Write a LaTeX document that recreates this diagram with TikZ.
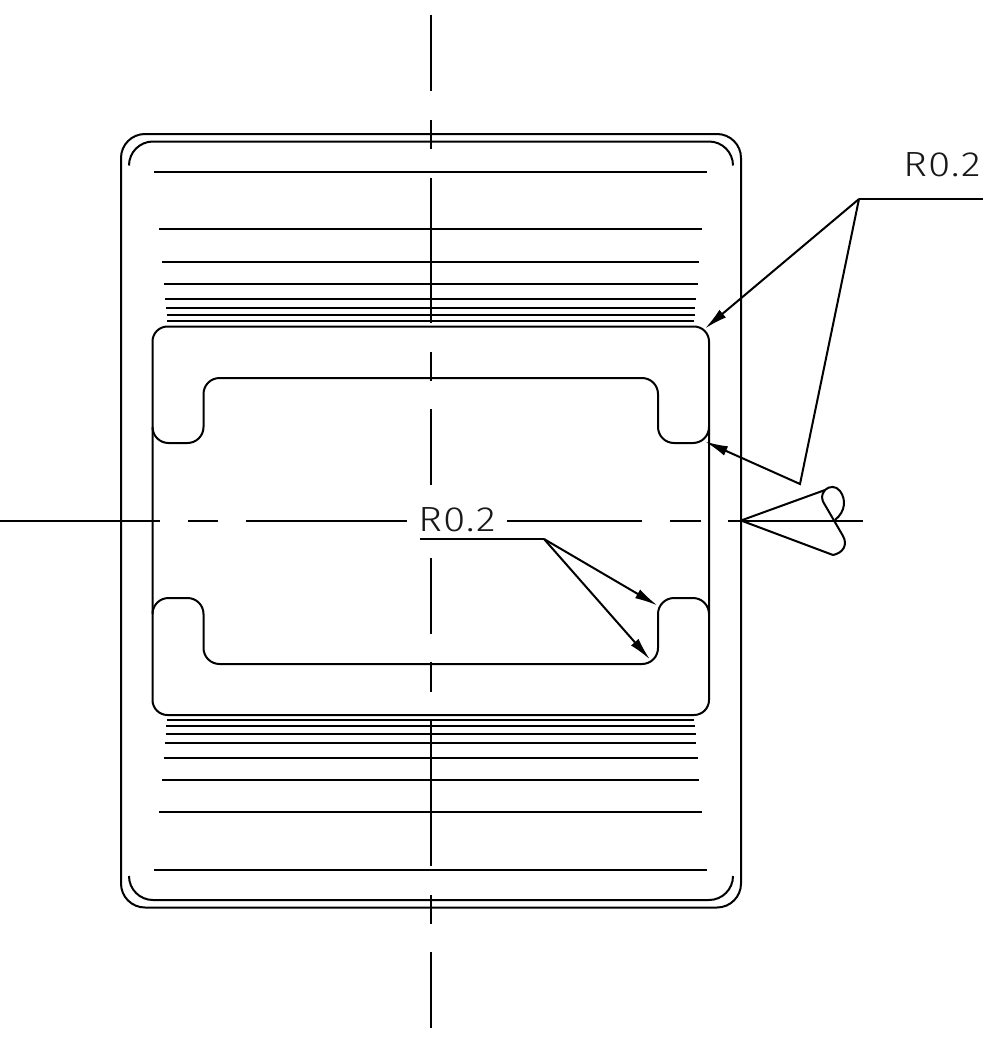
\documentclass[tikz,border=0pt]{standalone}
\usepackage{fontspec}
\usetikzlibrary{arrows.meta}
\newfontfamily\dimfont[FakeStretch=1.16,LetterSpace=4]{Fira Sans Light}
\tikzset{
  part/.style={line width=2pt,line cap=butt,line join=round},
  cline/.style={line width=2pt},
  leader/.style={line width=2pt},
  tip/.style={-{Latex[length=23pt,width=10pt]}},
  dimtext/.style={font=\dimfont\fontsize{35}{35}\selectfont,inner sep=0pt,anchor=base west,text=black!90}
}
\begin{document}
\begin{tikzpicture}[x=1pt,y=-1pt]
\useasboundingbox (0,0) rectangle (989,1049);
% centre lines
\foreach \a/\b in {15/91,120/149,178/323,352/381,409/485,558/634,662/692,720/866,895/924,952/1028}
  \draw[cline] (431,\a) -- (431,\b);
\foreach \a/\b in {0/160,188/218,246/406.5,507/642,670/701,728/863}
  \draw[cline] (\a,521) -- (\b,521);
% outer body
\draw[part,rounded corners=24pt] (121,134) rectangle (741,907.5);
\draw[part,rounded corners=24pt] (129,165.5) -- (129,141.5) -- (733,141.5) -- (733,165.5);
\draw[part,rounded corners=24pt] (129,876) -- (129,900) -- (733,900) -- (733,876);
% hatch-like lines
\foreach \y/\x in {171.5/154,229/159,262/162,283.5/163.5,299/165,308/166,315/166.5,321/167,
                   720/167,726/166,733.5/165.5,742.5/165,758/163.5,780/162,812/159,869.5/154}
  \draw[part] (\x,\y) -- ({861-\x},\y);
% plate
\draw[part,rounded corners=15pt] (152.5,326.5) rectangle (709,715);
\draw[part,rounded corners=16pt] (152.5,427) -- (152.5,443) -- (203.5,443) -- (203.5,378) -- (658,378) -- (658,443) -- (709,443) -- (709,427);
\draw[part,rounded corners=16pt] (152.5,614) -- (152.5,598) -- (203.5,598) -- (203.5,664) -- (658,664) -- (658,598) -- (709,598) -- (709,614);
% cone symbol
\coordinate (apex) at (741,520.5);
\coordinate (coneTop) at (825,490);
\coordinate (coneBot) at (833,555);
\draw[part] (coneTop) -- (apex) -- (coneBot);
\draw[part] (coneTop) .. controls (829,486) and (836,485.5) .. (840,491)
  .. controls (846,499) and (846,511) .. (835,520);
\draw[part] (coneTop) .. controls (821,495) and (821,499) .. (825,505)
  -- (843,536) .. controls (848,545) and (843,553) .. (833,555);
% labels and leaders
\node[dimtext] (labelA) at (903,176) {R0.2};
\node[dimtext] (labelB) at (418,531) {R0.2};
\coordinate (kneeA) at (859,199);
\coordinate (endA) at (983,199);
\coordinate (elbowA) at (800,484);
\coordinate (tipA1) at (705,328.5);
\coordinate (tipA2) at (705,441.5);
\coordinate (startB) at (420,539);
\coordinate (kneeB) at (544,539);
\coordinate (tipB1) at (657.5,605.5);
\coordinate (tipB2) at (650,659.5);
\draw[leader] (endA) -- (kneeA);
\draw[leader,tip] (kneeA) -- (tipA1);
\draw[leader,tip] (kneeA) -- (elbowA) -- (tipA2);
\draw[leader] (startB) -- (kneeB);
\draw[leader,tip] (kneeB) -- (tipB1);
\draw[leader,tip] (kneeB) -- (tipB2);
\end{tikzpicture}
\end{document}
